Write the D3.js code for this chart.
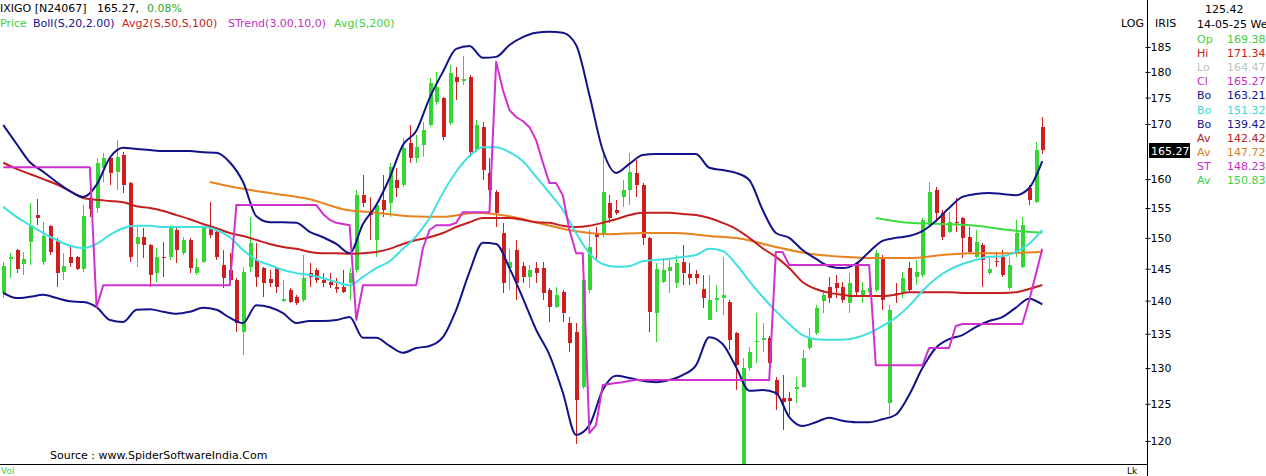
<!DOCTYPE html>
<html><head><meta charset="utf-8">
<script src="https://cdn.jsdelivr.net/npm/d3@7"></script>
<style>
body{margin:0;background:#fff;}
svg{display:block;font-family:"DejaVu Sans",sans-serif;}
</style>
</head><body>
<svg id="chart" width="1266" height="476"></svg>
<script>
// ---------- DATA (daily bars, oldest first) ----------
const opens = [141.2,146.6,148.0,145.8,149.3,153.8,146.1,152.0,149.5,144.5,146.9,146.9,145.0,156.7,155.0,162.0,163.8,161.3,164.3,159.3,
149.0,150.1,148.8,144.3,146.9,146.9,151.3,147.5,149.7,144.3,146.1,151.5,151.0,145.6,144.8,143.2,135.3,145.3,146.4,145.1,
143.4,145.1,139.9,141.7,140.6,140.1,144.3,144.8,143.2,142.9,142.1,142.1,142.7,144.8,157.2,154.2,149.7,156.4,155.9,159.9,
159.0,166.5,163.8,166.1,169.8,174.1,174.9,170.2,179.0,178.2,179.0,165.2,169.4,161.1,157.8,150.8,145.1,148.0,145.4,143.7,
145.1,145.1,141.7,139.0,141.3,136.6,135.3,127.3,141.7,150.6,150.5,155.9,154.7,156.9,158.1,161.1,159.0,150.0,138.1,142.9,
144.6,142.7,146.1,144.2,144.2,141.8,137.1,140.1,140.4,139.8,135.1,117.0,130.0,133.8,134.1,134.4,128.3,125.8,125.8,127.1,
127.3,132.9,135.1,139.9,142.1,142.7,142.1,139.6,145.9,140.9,141.3,141.7,146.9,125.1,141.2,141.2,145.1,143.7,144.0,152.1,
158.1,154.2,151.0,152.6,153.3,150.1,146.9,148.8,144.3,146.2,146.9,142.0,147.5,145.3,158.4,156.0,169.38];
const highs = [146.1,147.5,148.1,147.7,155.9,156.5,152.6,152.1,150.0,147.5,148.5,147.1,155.5,156.9,163.8,164.7,164.0,167.0,164.8,159.5,
151.8,151.6,149.0,148.3,149.3,152.1,151.6,150.1,150.0,146.7,151.7,156.0,151.6,148.0,147.5,143.5,145.3,153.5,149.1,145.3,
144.8,145.3,143.2,142.0,140.9,147.2,145.9,145.1,144.3,144.3,143.5,144.8,145.1,158.1,160.7,156.9,155.9,160.7,162.9,162.0,
167.4,169.8,168.0,170.4,178.8,180.0,175.1,181.4,181.0,183.2,179.4,170.7,170.4,163.8,158.1,152.5,148.2,149.7,146.1,145.6,
146.1,146.1,142.0,142.1,141.7,137.5,136.6,143.5,151.3,151.8,164.3,157.2,156.4,159.9,164.7,163.4,159.3,150.1,145.9,146.7,
146.7,147.2,148.8,145.9,144.8,144.0,144.0,142.4,146.9,140.1,135.3,131.4,133.1,138.1,136.6,134.6,128.7,129.0,126.6,128.7,
132.6,135.8,139.3,141.7,143.7,144.0,142.9,144.3,146.1,142.9,142.7,148.0,147.2,139.3,142.7,144.5,146.1,146.4,153.3,159.5,
158.6,154.7,154.3,156.7,153.5,151.8,151.3,149.1,146.7,147.7,148.0,146.9,153.0,153.5,159.0,166.7,171.34];
const lows = [140.4,143.5,144.3,144.0,145.6,152.1,145.6,147.2,142.1,143.2,145.3,144.8,144.5,153.5,154.2,159.5,159.0,158.1,157.6,146.1,
145.3,146.7,142.1,142.9,143.7,146.4,145.9,147.2,144.3,144.0,145.9,150.0,146.4,142.0,142.7,135.3,131.9,144.5,142.1,140.6,
142.1,141.2,139.8,139.6,139.3,139.8,142.1,142.7,142.1,142.0,141.2,141.2,140.1,144.3,155.2,149.7,146.9,153.5,153.5,156.9,
158.6,162.9,162.9,163.9,169.4,173.6,167.0,169.8,174.5,177.4,163.9,164.8,159.9,156.9,151.8,141.2,141.7,140.1,142.7,142.0,
142.7,140.1,136.8,138.9,136.8,132.3,119.6,127.0,141.2,146.4,150.1,152.5,153.8,155.2,155.5,156.9,148.8,135.3,133.8,142.7,
141.2,142.0,142.4,142.4,142.6,138.9,137.0,138.3,137.8,132.6,126.9,116.0,129.6,130.7,132.3,129.3,124.2,121.5,123.5,125.1,
127.2,132.6,134.8,138.1,139.6,140.4,139.6,138.1,140.9,139.6,140.6,141.3,138.6,123.5,139.6,140.4,141.2,142.4,143.7,151.8,
152.6,149.7,150.8,151.0,146.7,147.5,146.7,142.1,144.0,145.3,143.7,141.7,146.9,145.1,155.5,155.9,164.47];
const closes = [145.4,146.9,145.0,146.6,152.1,153.3,150.3,147.7,144.3,145.4,145.9,145.0,153.6,154.8,162.9,163.8,161.1,163.9,159.0,146.9,
150.1,148.8,144.0,146.9,146.7,151.6,148.0,149.7,145.1,145.3,151.6,150.5,146.9,143.5,143.2,136.6,144.5,149.1,143.7,142.7,
142.7,142.1,140.3,139.8,139.6,143.5,143.7,143.2,142.7,142.4,141.8,141.3,144.3,157.2,155.9,153.8,155.5,154.7,162.1,158.4,
165.6,163.8,165.7,168.9,177.8,177.0,167.6,179.8,178.0,178.6,164.8,169.8,161.6,158.1,154.2,142.7,146.1,142.7,143.7,144.8,
144.3,141.2,139.0,140.9,138.1,133.6,125.5,143.2,148.5,150.1,157.8,153.3,154.2,158.1,161.3,159.0,150.0,138.3,145.0,144.8,
145.3,145.9,144.3,143.5,143.5,140.4,140.1,140.4,140.9,134.1,130.4,130.0,132.3,134.0,134.4,130.7,126.2,125.2,125.4,127.3,
131.5,134.4,138.9,140.9,140.4,142.0,140.1,142.7,141.3,141.7,142.0,147.5,140.1,138.6,140.9,143.5,141.7,144.5,153.0,157.8,
154.2,150.1,152.6,152.5,150.0,147.7,149.3,146.4,145.0,146.1,144.0,145.6,150.8,152.1,156.4,165.14,165.27];

// Bollinger(20,2) upper / middle / lower and 50-bar average, read every 2nd bar from bar 0
const bollUpper = [169.8,166.3,163.0,161.3,159.5,157.9,156.9,159.0,163.8,165.6,165.4,165.2,165.0,165.0,165.0,164.8,164.7,163.0,159.5,153.6,
152.6,152.6,152.5,151.0,150.1,149.0,147.5,152.3,155.5,160.2,166.1,168.7,174.9,180.0,184.6,185.2,182.8,183.0,185.4,187.0,
187.9,188.1,187.9,185.4,175.5,165.2,161.1,162.7,164.3,164.5,164.5,164.5,164.5,162.0,161.6,161.1,159.85,154.7,150.8,150.0,
148.0,146.6,145.4,145.1,145.75,147.7,149.5,150.0,150.3,151.1,152.8,155.0,156.9,157.4,157.6,157.4,157.2,158.4,163.21];
const bollMid = [155.2,153.5,152.1,150.8,149.65,148.7,148.3,149.0,150.5,151.6,152.0,152.0,151.8,151.8,151.8,151.8,151.3,150.1,148.0,146.4,
145.6,144.8,144.3,144.0,143.5,142.9,142.4,143.7,145.1,146.2,148.2,150.3,153.3,157.6,161.3,164.1,165.7,165.7,164.8,163.2,
160.4,157.6,154.7,150.8,147.5,145.75,145.3,145.4,146.2,146.4,146.6,146.9,147.2,148.2,147.85,145.75,143.05,140.6,138.4,136.45,
134.8,134.2,134.1,134.1,134.4,135.1,136.15,137.4,139.2,141.5,143.4,144.8,145.75,146.4,146.9,147.0,147.7,149.0,151.32];
const bollLower = [141.2,140.4,140.6,140.9,140.4,139.9,139.8,139.0,137.05,136.75,138.6,138.7,138.3,138.0,138.3,138.9,138.6,137.4,136.6,139.3,
139.0,138.1,136.6,136.9,136.9,137.05,137.5,134.4,134.4,133.2,132.2,132.9,133.2,134.5,138.6,144.5,149.2,149.0,145.1,140.4,
135.6,131.9,126.6,120.8,122.1,126.9,128.9,128.6,128.2,128.0,128.3,129.0,130.4,134.5,133.5,130.2,126.8,126.9,126.5,123.2,
122.0,122.5,123.1,122.7,122.5,122.5,122.9,123.5,126.2,130.0,132.9,134.2,134.8,136.0,136.9,137.5,138.9,140.3,139.42];
const avg50 = [162.9,161.8,160.9,160.0,159.1,157.9,156.7,156.4,156.2,156.0,155.3,155.0,154.5,153.8,153.1,152.3,151.6,150.8,150.3,149.65,
149.0,148.5,148.2,147.7,147.5,147.5,147.4,147.5,147.7,148.2,149.0,149.65,150.1,150.8,151.8,152.6,153.3,153.3,153.3,153.0,
152.6,152.5,152.0,151.8,152.0,152.5,153.1,153.8,154.2,154.2,154.2,154.0,153.8,153.3,152.5,151.5,150.0,148.3,146.9,145.1,
142.9,141.8,141.2,140.9,140.7,140.7,140.7,140.9,141.3,141.3,141.3,141.3,141.2,141.2,141.2,141.2,141.3,141.8,142.42];
// 100-bar average, every 5th bar from bar 31
const avg100 = [159.5,158.3,157.4,156.5,154.8,154.2,153.6,153.5,154.2,153.6,152.3,151.1,150.6,150.8,150.8,150.3,149.8,148.5,147.4,146.9,
146.7,146.7,147.2,147.5,147.5,147.72];
// 200-bar average, every 5th bar from bar 131
const avg200 = [153.3,152.5,152.3,152.0,151.3,150.83];
// SuperTrend(3,10), every bar
const sTrend = [162.1,162.1,162.1,162.1,162.1,162.1,162.1,162.1,162.1,162.1,162.1,162.1,162.1,162.1,139.0,
142.4,142.4,142.4,142.4,142.4,142.4,142.4,142.4,142.4,142.4,142.4,142.4,142.4,142.4,142.4,142.4,142.4,142.4,142.4,142.4,
155.5,155.5,155.5,155.5,155.5,155.5,155.5,155.5,155.5,155.5,155.5,155.5,155.5,
154.0,153.0,152.5,152.3,152.1,137.05,
142.4,142.4,142.4,142.4,142.4,142.4,142.4,142.4,142.4,
148.3,151.3,152.1,152.1,152.1,152.5,154.3,154.3,154.3,154.3,154.3,
182.0,176.5,172.6,171.3,170.55,169.4,167.0,163.0,159.3,159.3,157.2,151.3,147.5,147.5,
121.05,122.1,127.6,127.75,127.9,128.0,128.2,
128.3,128.3,128.3,128.3,128.3,128.3,128.3,128.3,128.3,128.3,128.3,128.3,128.3,128.3,128.3,128.3,128.3,128.3,128.3,128.3,128.3,
147.7,147.7,
145.6,145.6,145.6,145.6,145.6,145.6,145.6,145.6,145.6,145.6,145.6,145.6,145.6,
130.4,130.4,130.4,130.4,130.4,130.4,130.4,130.4,
132.9,132.9,132.9,132.9,136.15,
136.45,136.45,136.45,136.45,136.45,136.45,136.45,136.45,136.45,136.45,
139.9,144.0,148.23];

// 165 is hidden behind the last-price box in the reference
const yTicks = [120,125,130,135,140,145,150,155,160,170,175,180,185];
const infoLabels = ["Op","Hi","Lo","Cl","Bo","Bo","Bo","Av","Av","ST","Av"];
const infoValues = ["169.38","171.34","164.47","165.27","163.21","151.32","139.42","142.42","147.72","148.23","150.83"];
const infoColors = ["#3fcf3f","#c41e1e","#c0c0c0","#c030c0","#14148c","#3ed8d8","#14148c","#b52020","#d9801c","#c030c0","#3fcf3f"];

// ---------- CHART ----------
const svg = d3.select("#chart");
const W = 1266, H = 476, axisX = 1147, plotBottom = 464;
const n = closes.length;
const x = d3.scaleLinear().domain([0, n - 1]).range([3.3, 1042.3]);
const y = d3.scaleLog().domain([117.0, 194.8]).range([plotBottom, 0]);

svg.append("rect").attr("width", W).attr("height", H).attr("fill", "#fff");
svg.append("defs").append("clipPath").attr("id", "plotclip")
  .append("rect").attr("x", 0).attr("y", 0).attr("width", axisX).attr("height", plotBottom);
const plot = svg.append("g").attr("clip-path", "url(#plotclip)");

const green = "#33d633", red = "#cc1f1f";
const bars = d3.range(n).map(i => ({i, o: opens[i], h: highs[i], l: lows[i], c: closes[i]}));
const cg = plot.append("g").attr("shape-rendering", "crispEdges");
cg.selectAll("line.wick").data(bars).join("line")
  .attr("x1", d => Math.round(x(d.i)) + 0.5).attr("x2", d => Math.round(x(d.i)) + 0.5)
  .attr("y1", d => y(d.h)).attr("y2", d => y(d.l))
  .attr("stroke", d => d.c >= d.o ? green : red).attr("stroke-width", 1);
cg.selectAll("rect.body").data(bars).join("rect")
  .attr("x", d => Math.round(x(d.i)) - 1.5).attr("width", 4)
  .attr("y", d => y(Math.max(d.o, d.c)))
  .attr("height", d => Math.max(1, y(Math.min(d.o, d.c)) - y(Math.max(d.o, d.c))))
  .attr("fill", d => d.c >= d.o ? green : red);

function series(vals, start, step) { return vals.map((v, k) => ({i: Math.min(start + k * step, n - 1), v})); }
function drawLine(pts, color, curve) {
  plot.append("path").datum(pts)
    .attr("fill", "none").attr("stroke", color).attr("stroke-width", 2)
    .attr("stroke-linejoin", "round")
    .attr("d", d3.line().x(d => x(d.i)).y(d => y(d.v)).curve(curve));
}
drawLine(series(avg100, 31, 5), "#e8821e", d3.curveMonotoneX);
drawLine(series(avg200, 131, 5), "#3ddc3d", d3.curveMonotoneX);
drawLine(series(avg50, 0, 2), "#c41e1e", d3.curveMonotoneX);
drawLine(series(bollMid, 0, 2), "#40e0e0", d3.curveMonotoneX);
drawLine(series(bollUpper, 0, 2), "#121289", d3.curveMonotoneX);
drawLine(series(bollLower, 0, 2), "#121289", d3.curveMonotoneX);
drawLine(series(sTrend, 0, 1), "#d030d0", d3.curveLinear);

// frame lines
svg.append("line").attr("x1", 0).attr("x2", axisX).attr("y1", plotBottom + 0.5).attr("y2", plotBottom + 0.5)
  .attr("stroke", "#000").attr("shape-rendering", "crispEdges");
svg.append("line").attr("x1", axisX + 0.5).attr("x2", axisX + 0.5).attr("y1", 0).attr("y2", H)
  .attr("stroke", "#000").attr("shape-rendering", "crispEdges");

// right axis
const ax = svg.append("g").attr("transform", `translate(${axisX + 0.5},0)`)
  .call(d3.axisRight(y).tickValues(yTicks).tickFormat(d3.format("d")).tickSize(3).tickPadding(0));
ax.select(".domain").remove();
ax.selectAll(".tick line").attr("x1", -2).attr("stroke", "#000");
ax.selectAll(".tick text").attr("font-size", 11).attr("font-family", "DejaVu Sans").attr("fill", "#000").attr("x", 3);

// last price box
const yl = y(closes[n - 1]);
svg.append("rect").attr("x", 1149).attr("y", Math.round(yl) - 7).attr("width", 41).attr("height", 15).attr("fill", "#000");
svg.append("text").attr("x", 1151).attr("y", Math.round(yl) + 4.5).attr("font-size", 11).attr("fill", "#fff").text(closes[n - 1].toFixed(2));

// legend
function txt(xp, yp, s, col, size) {
  return svg.append("text").attr("x", xp).attr("y", yp).attr("font-size", size || 11).attr("fill", col).text(s);
}
txt(0, 12, "IXIGO [N24067]", "#000");
txt(97, 12, "165.27,", "#000");
txt(147, 12, "0.08%", "#2aa82a");
txt(0, 27, "Price", "#3fcf3f");
txt(33, 27, "Boll(S,20,2.00)", "#14148c");
txt(122, 27, "Avg2(S,50,S,100)", "#c41e1e");
txt(228, 27, "STrend(3.00,10,0)", "#c030c0");
txt(334, 27, "Avg(S,200)", "#3fcf3f");

txt(1121, 27, "LOG", "#000");
txt(1155, 27, "IRIS", "#000");
txt(1205, 13, "125.42", "#000");
txt(1197, 28, "14-05-25 We", "#000");
infoLabels.forEach((lab, k) => {
  const yy = 43 + k * 14.1;
  txt(1197, yy, lab, infoColors[k]);
  txt(1227, yy, infoValues[k], infoColors[k]);
});

txt(50, 459, "Source : www.SpiderSoftwareIndia.Com", "#000");
txt(1, 474, "Vol", "#3fcf3f", 9);
txt(1127, 474, "Lk", "#000", 9);
</script>
</body></html>
